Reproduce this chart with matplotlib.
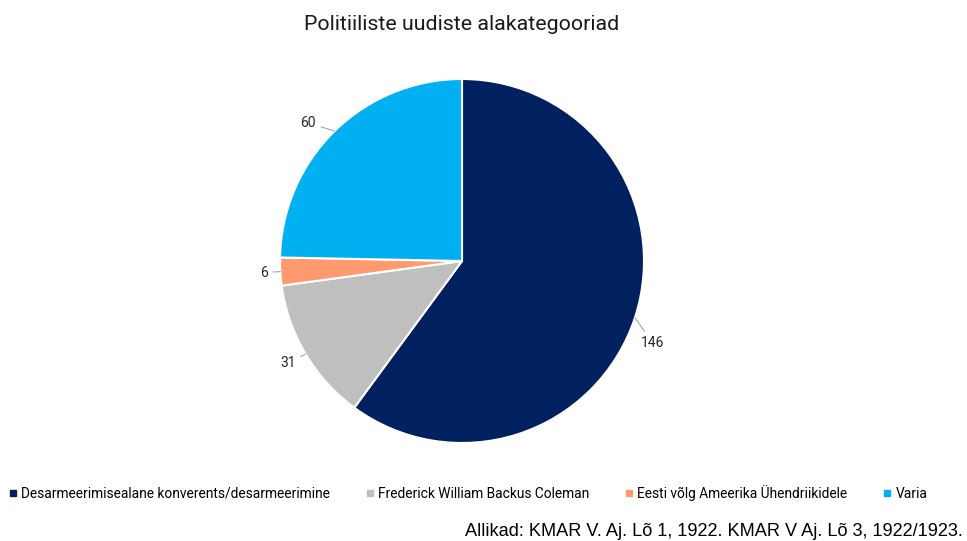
import matplotlib.pyplot as plt
import numpy as np
from matplotlib.lines import Line2D

categories = ["Desarmeerimisealane konverents/desarmeerimine",
              "Frederick William Backus Coleman",
              "Eesti võlg Ameerika Ühendriikidele",
              "Varia"]
values = [146, 31, 6, 60]
colors = ["#002060", "#BFBFBF", "#FF9A6E", "#00B0F0"]

plt.rcParams['font.family'] = ['Roboto', 'DejaVu Sans']

fig = plt.figure(figsize=(9.67, 5.41), dpi=100)
W, H = 967, 541
cx, cy, r = 462, 261, 182
ax = fig.add_axes([(cx - r) / W, (H - cy - r) / H, 2 * r / W, 2 * r / H])

wedges, _ = ax.pie(values, colors=colors, startangle=90, counterclock=False,
                   radius=1, wedgeprops=dict(edgecolor='white', linewidth=1.5))
ax.set_xlim(-1, 1)
ax.set_ylim(-1, 1)
ax.set_aspect('equal')
ax.axis('off')

# label offsets (radius factor, extra dx, extra dy) per slice
offs = [(1.1, -0.06, -0.11), (1.1, 0.03, 0.0), (1.1, 0.03, 0.0), (1.12, -0.02, -0.04)]
for w, v, (rf, dx, dy) in zip(wedges, values, offs):
    mid = np.deg2rad((w.theta1 + w.theta2) / 2)
    ex, ey = np.cos(mid), np.sin(mid)
    tx, ty = rf * ex + dx, rf * ey + dy
    ha = 'left' if ex > 0 else 'right'
    ax.annotate(str(v), xy=(ex, ey), xytext=(tx, ty), ha=ha, va='center',
                fontsize=10, color='#262626',
                arrowprops=dict(arrowstyle='-', color='#A6A6A6', lw=0.8,
                                shrinkA=2, shrinkB=0))

fig.text(cx / W, 1 - 25 / H, "Politiiliste uudiste alakategooriad",
         ha='center', va='center', fontsize=15.4, color='#1a1a1a')

handles = [Line2D([], [], marker='s', linestyle='', markersize=5,
                  markerfacecolor=c, markeredgecolor=c) for c in colors]
fig.legend(handles, categories, loc='center', bbox_to_anchor=(0.484, 1 - 493 / H),
           ncol=4, frameon=False, fontsize=9.9, handlelength=0.6,
           handletextpad=0.3, columnspacing=2.6)

fig.text(963 / W, 1 - 531 / H, "Allikad: KMAR V. Aj. Lõ 1, 1922. KMAR V Aj. Lõ 3, 1922/1923.",
         ha='right', va='center', fontsize=13.1, family='Liberation Sans', color='black')

fig.savefig('out.png', dpi=100)
